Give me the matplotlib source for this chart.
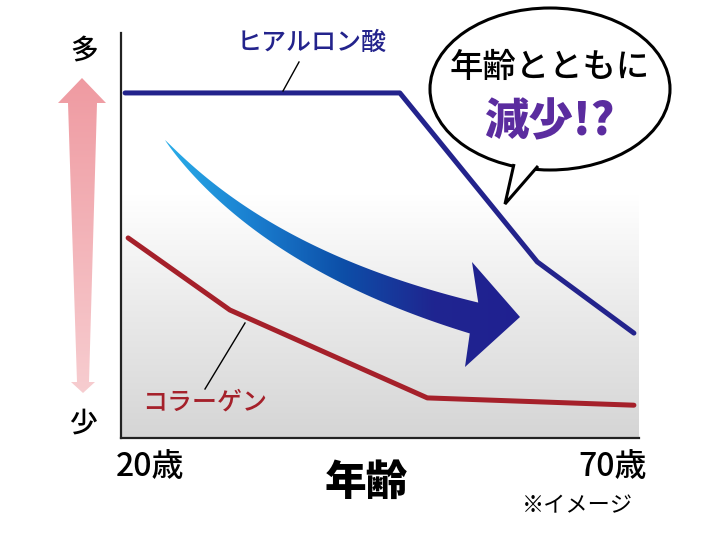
import numpy as np
import matplotlib.pyplot as plt
from matplotlib.colors import LinearSegmentedColormap
from matplotlib.patches import Polygon, Ellipse

plt.rcParams["font.family"] = ["Noto Sans CJK JP", "DejaVu Sans"]

# data (age vs. relative amount)
hyaluronic_age = [20, 47, 60.5, 70]
hyaluronic_amt = [85.2, 85.2, 43.5, 25.9]
collagen_age = [20.3, 30.3, 49.7, 70]
collagen_amt = [49.4, 31.6, 9.9, 8.1]

NAVY = "#23238c"
RED = "#a5202a"
PURPLE = "#5b2c9f"

W, H = 720, 540
fig = plt.figure(figsize=(7.2, 5.4), dpi=100)
ax = fig.add_axes([121 / W, 1 - 438 / H, 518 / W, 405 / H])
ax.set_xlim(19.6, 70.5)
ax.set_ylim(0, 100)

# grey gradient in the lower part of the plot area
grey = LinearSegmentedColormap.from_list("g", ["#d5d5d5", "#e9e9e9", "#ffffff"])
grad = np.linspace(0, 1, 256).reshape(-1, 1)
ax.imshow(grad, cmap=grey, extent=[0, 1, 0, 0.6], transform=ax.transAxes,
          aspect="auto", origin="lower", zorder=0)

ax.plot(hyaluronic_age, hyaluronic_amt, color=NAVY, lw=3.6,
        solid_joinstyle="round", solid_capstyle="round", zorder=3)
ax.plot(collagen_age, collagen_amt, color=RED, lw=3.6,
        solid_joinstyle="round", solid_capstyle="round", zorder=3)

for s in ["top", "right"]:
    ax.spines[s].set_visible(False)
for s in ["left", "bottom"]:
    ax.spines[s].set_linewidth(1.6)
    ax.spines[s].set_color("#222222")
ax.set_xticks([])
ax.set_yticks([])
ax.patch.set_alpha(0)

# overlay in pixel coordinates for the decorations
ov = fig.add_axes([0, 0, 1, 1], zorder=5)
ov.set_xlim(0, W)
ov.set_ylim(H, 0)
ov.axis("off")
ov.patch.set_alpha(0)

# leader lines and series labels
ov.plot([283, 299], [91, 62], color="black", lw=1.0)
ov.plot([245, 205], [323, 389], color="black", lw=1.0)
ov.text(312, 43, "ヒアルロン酸", color=NAVY, fontsize=18, fontweight="medium",
        ha="center", va="center")
ov.text(205, 403, "コラーゲン", color=RED, fontsize=18, fontweight="medium",
        ha="center", va="center")

# pink double arrow on the left
pink_pts = [(82, 78), (106, 103), (97, 103), (89, 382), (95, 382), (83, 393),
            (71, 382), (77, 382), (68, 103), (58, 103)]
pink = Polygon(pink_pts, closed=True, facecolor="none", edgecolor="none")
ov.add_patch(pink)
pink_cmap = LinearSegmentedColormap.from_list("p", ["#ef9aa1", "#f7cdd0"])
im = ov.imshow(grad, cmap=pink_cmap, extent=[55, 110, 395, 75],
               aspect="auto", origin="upper", zorder=2)
im.set_clip_path(pink)
ov.text(84, 50, "多", fontsize=20, fontweight="medium", ha="center", va="center")
ov.text(83, 423, "少", fontsize=20, fontweight="medium", ha="center", va="center")

# big curved gradient arrow
p0, p1, p2 = np.array([165, 140]), np.array([266, 261]), np.array([474, 318])
t = np.linspace(0, 1, 120)[:, None]
curve = (1 - t) ** 2 * p0 + 2 * (1 - t) * t * p1 + t ** 2 * p2
tang = 2 * (1 - t) * (p1 - p0) + 2 * t * (p2 - p1)
tang = tang / np.linalg.norm(tang, axis=1, keepdims=True)
norm = np.column_stack([tang[:, 1], -tang[:, 0]])
half = 16 * t ** 0.8
upper = curve + norm * half
lower = curve - norm * half
head = np.array([[472, 262], [520, 317], [465, 367]])
arrow_pts = np.vstack([upper, head, lower[::-1]])
arrow = Polygon(arrow_pts, closed=True, facecolor="none", edgecolor="none")
ov.add_patch(arrow)
blue_cmap = LinearSegmentedColormap.from_list(
    "b", ["#2bb0ea", "#1a7fd0", "#0d4fa8", "#1f2590", "#202090"])
hgrad = np.linspace(0, 1, 256).reshape(1, -1)
im2 = ov.imshow(hgrad, cmap=blue_cmap, extent=[160, 525, 370, 130],
                aspect="auto", zorder=2)
im2.set_clip_path(arrow)

# speech bubble
bubble = Ellipse((550, 89), 240, 162, facecolor="white", edgecolor="black",
                 lw=2.2, zorder=3)
ov.add_patch(bubble)
tail = Polygon([(514, 164), (505, 204), (538, 166)], closed=False,
               facecolor="white", edgecolor="black", lw=2.2, zorder=4,
               joinstyle="miter")
ov.add_patch(tail)
ov.text(550, 67, "年齢とともに", fontsize=24, fontweight="medium",
        ha="center", va="center", zorder=5)
ov.text(549, 122, "減少!?", fontsize=32, fontweight="black", color=PURPLE,
        ha="center", va="center", zorder=5)

# axis texts
ov.text(150, 467, "20歳", fontsize=23, fontweight="medium", ha="center", va="center")
ov.text(613, 467, "70歳", fontsize=23, fontweight="medium", ha="center", va="center")
ov.text(366, 483, "年齢", fontsize=30, fontweight="black", ha="center", va="center")
ov.text(577, 506, "※イメージ", fontsize=16, ha="center", va="center")

fig.savefig("out.png", dpi=100)
